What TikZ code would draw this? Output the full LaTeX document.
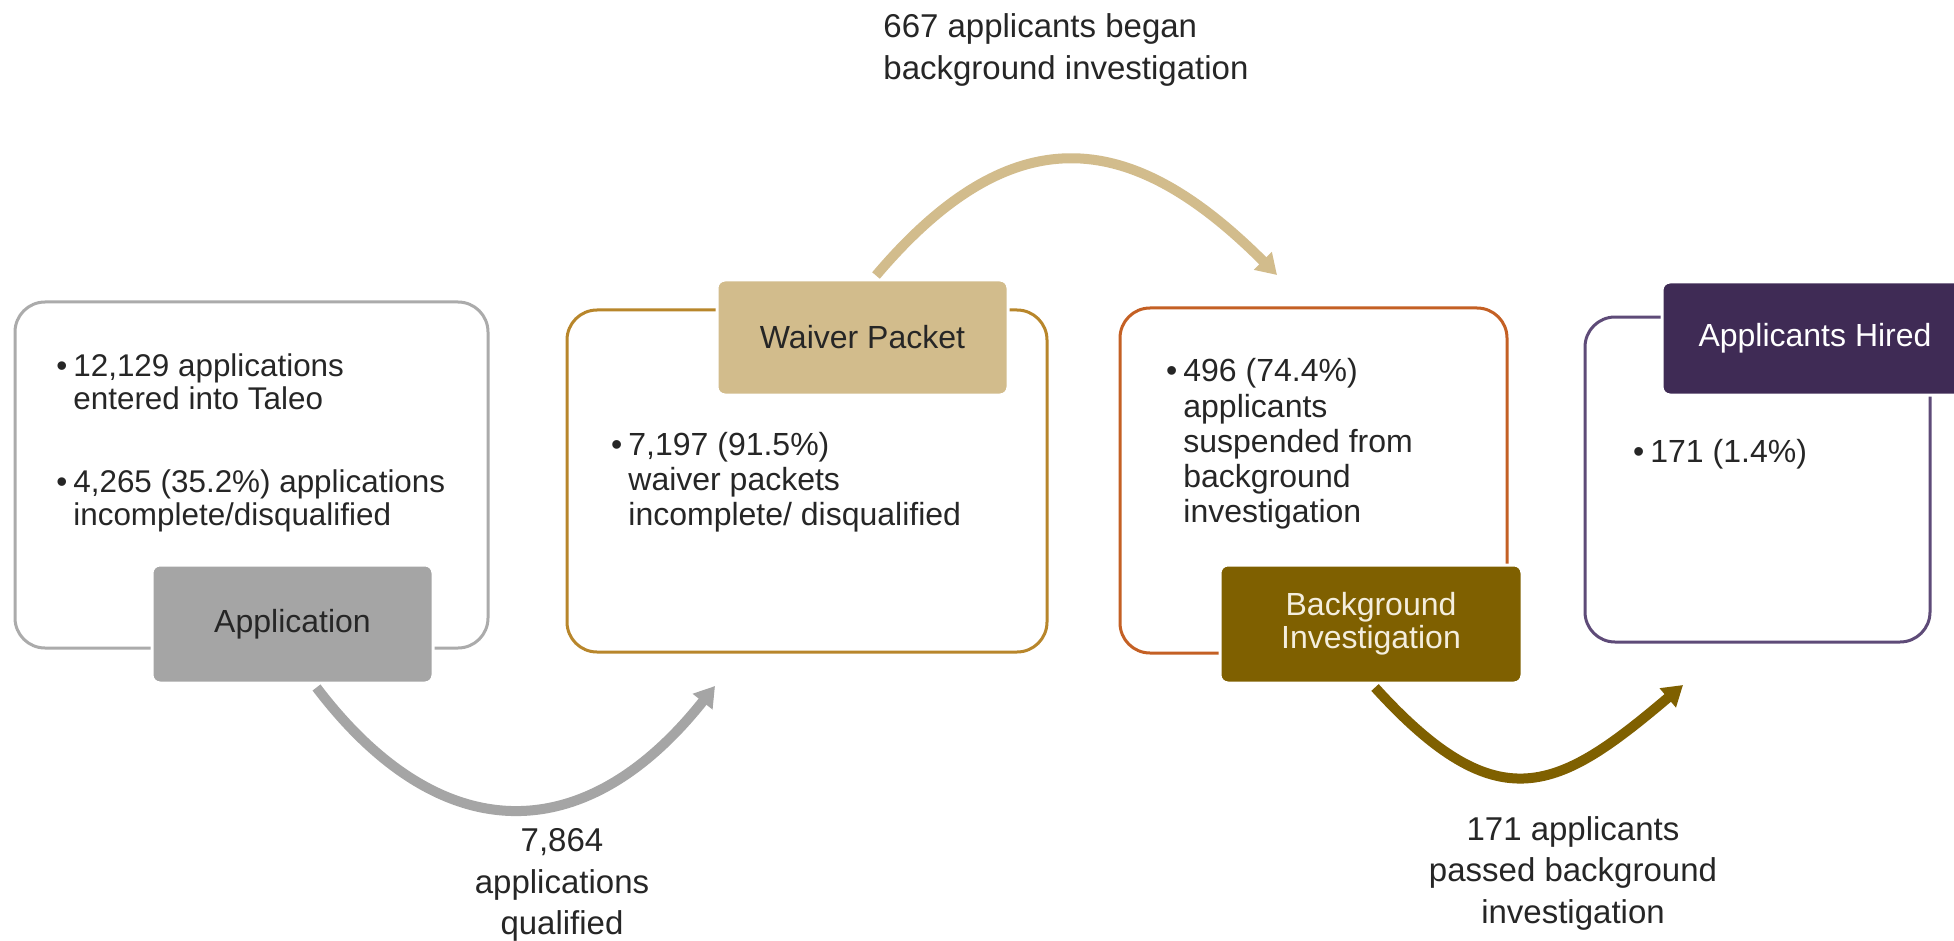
\documentclass[tikz,border=0pt]{standalone}
\usepackage{fontspec}
\setmainfont{Liberation Sans}
\usetikzlibrary{arrows.meta}
\definecolor{txt}{HTML}{262626}
\definecolor{c1}{HTML}{ABABAB}
\definecolor{c1f}{HTML}{A5A5A5}
\definecolor{c2}{HTML}{B8862B}
\definecolor{c2f}{HTML}{D2BC8C}
\definecolor{c3}{HTML}{C46024}
\definecolor{c3f}{HTML}{7F6000}
\definecolor{c3t}{HTML}{F4EEDD}
\definecolor{c4}{HTML}{5E4B78}
\definecolor{c4f}{HTML}{3F2B55}
\begin{document}
\begin{tikzpicture}[x=0.5pt,y=-0.5pt,
  outer/.style={draw, line width=1.5pt, rounded corners=15pt, fill=white, inner sep=0pt},
  lab/.style={draw=white, line width=1.5pt, rounded corners=4pt, inner sep=0pt, align=center, font=\fontsize{16}{16.5}\selectfont},
  bul/.style={anchor=west, inner sep=0pt, align=left, text=txt},
  flow/.style={line width=5pt, -{Triangle[length=10pt,width=12pt]}},
  arrlab/.style={inner sep=0pt, text=txt, font=\fontsize{16.5}{20.75}\selectfont}
]
\useasboundingbox (0,0) rectangle (1954,941);
\fill[white] (0,0) rectangle (1954,941);

% outer boxes
\node[outer, draw=c1, minimum width=236.5pt, minimum height=173pt] (b1) at (251.5,475) {};
\node[outer, draw=c2, minimum width=240pt, minimum height=171pt] (b2) at (807,481) {};
\node[outer, draw=c3, minimum width=193.5pt, minimum height=172.5pt] (b3) at (1313.5,480.5) {};
\node[outer, draw=c4, minimum width=172.5pt, minimum height=162.5pt] (b4) at (1757.5,479.5) {};

% bullet texts
\node[bul, font=\fontsize{15.7}{16.5}\selectfont] (t1a) at (73,382) {\llap{•\hspace{3pt}}12,129 applications\\entered into Taleo};
\node[bul, font=\fontsize{15.7}{16.2}\selectfont] (t1b) at (73,501) {\llap{•\hspace{3pt}}4,265 (35.2\%) applications\\incomplete/disqualified};
\node[bul, font=\fontsize{16}{17.5}\selectfont] (t2) at (628,482) {\llap{•\hspace{3pt}}7,197 (91.5\%)\\waiver packets\\incomplete/ disqualified};
\node[bul, font=\fontsize{16}{17.6}\selectfont] (t3) at (1183,444) {\llap{•\hspace{3pt}}496 (74.4\%)\\applicants\\suspended from\\background\\investigation};
\node[bul, font=\fontsize{16}{17.5}\selectfont] (t4) at (1650,454) {\llap{•\hspace{3pt}}171 (1.4\%)};

% label boxes
\node[lab, fill=c1f, text=txt, minimum width=140.5pt, minimum height=59pt] (l1) at (292.5,624) {Application};
\node[lab, fill=c2f, text=txt, minimum width=145.5pt, minimum height=57.5pt] (l2) at (862.5,337.5) {Waiver Packet};
\node[lab, fill=c3f, text=c3t, minimum width=151pt, minimum height=59pt] (l3) at (1371,624) {Background\\Investigation};
\node[lab, fill=c4f, text=white, minimum width=153pt, minimum height=56.5pt] (l4) at (1815,338.5) {Applicants Hired};

% arrow end points
\path (l1.south) ++(24,3) coordinate (s1);
\coordinate (e1) at (715,686);
\path (l2.north) ++(13.5,-3) coordinate (s2);
\coordinate (e2) at (1277,275);
\path (l3.south) ++(4,3) coordinate (s3);
\coordinate (e3) at (1683,685);

\draw[flow, draw=c1f] (s1) .. controls (440,850) and (585,850) .. (e1);
\draw[flow, draw=c2f] (s2) .. controls (1017,109) and (1136,134) .. (e2);
\draw[flow, draw=c3f] (s3) .. controls (1499,824) and (1559,790) .. (e3);

% arrow labels
\node[arrlab, align=center] (q1) at (562,885) {7,864\\applications\\qualified};
\node[arrlab, align=left, anchor=west] (q2) at (883,50) {667 applicants began\\background investigation};
\node[arrlab, align=center] (q3) at (1573,873) {171 applicants\\passed background\\investigation};
\end{tikzpicture}
\end{document}
